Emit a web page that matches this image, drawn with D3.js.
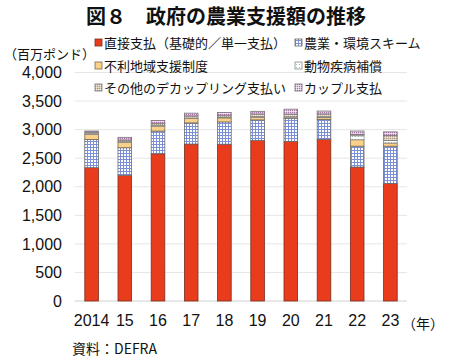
<!DOCTYPE html>
<html><head><meta charset="utf-8">
<script src="https://cdn.jsdelivr.net/npm/d3@7"></script>
<style>
body{margin:0;background:#fff;}
text{font-family:"Noto Sans CJK JP","Liberation Sans",Arial,sans-serif;}
</style></head>
<body><svg id="c" width="450" height="361"></svg>
<script>
const years = ["2014","15","16","17","18","19","20","21","22","23"];
const seriesNames = ["直接支払（基礎的／単一支払）","農業・環境スキーム","不利地域支援制度","動物疾病補償","その他のデカップリング支払い","カップル支払"];
const directPay   = [2334,2200,2577,2748,2745,2810,2793,2830,2345,2055];
const agriEnv     = [ 495, 483, 398, 370, 390, 360, 400, 350, 365, 655];
const lfa         = [  88,  95,  85,  75,  70,  45,  12,  30, 113,  55];
const animal      = [  10,  10,   8,   8,   8,  10,  18,  15,  70,  45];
const otherDecoup = [  30,  32,  45,  40,  40,  50,  50,  50,  25,  90];
const coupled     = [  18,  45,  47,  47,  47,  45,  85,  50,  57,  60];
const yTicks = [0,500,1000,1500,2000,2500,3000,3500,4000];

const svg = d3.select("#c");
const defs = svg.append("defs");
function pat(id, size, bg, draw){
  const p = defs.append("pattern").attr("id",id).attr("patternUnits","userSpaceOnUse").attr("width",size).attr("height",size);
  p.append("rect").attr("width",size).attr("height",size).attr("fill",bg);
  draw(p);
}
pat("pBlue",3,"#ffffff",p=>{
  p.append("rect").attr("x",0).attr("y",0).attr("width",3).attr("height",1).attr("fill","#7b8fd6");
  p.append("rect").attr("x",0).attr("y",0).attr("width",1).attr("height",3).attr("fill","#7b8fd6");
});
pat("pYellow",2,"#fbd088",p=>{});
pat("pAnimal",3,"#ffffff",p=>{
  p.append("rect").attr("x",1).attr("y",1).attr("width",1).attr("height",1).attr("fill","#9cc4b4");
});
pat("pOther",2,"#d8cbb8",p=>{
  p.append("rect").attr("x",0).attr("y",0).attr("width",1).attr("height",1).attr("fill","#a8988a");
  p.append("rect").attr("x",1).attr("y",1).attr("width",1).attr("height",1).attr("fill","#efe6da");
});
pat("pCoupled",2,"#e6cfe6",p=>{
  p.append("rect").attr("x",0).attr("y",0).attr("width",1).attr("height",1).attr("fill","#a878a8");
  p.append("rect").attr("x",1).attr("y",1).attr("width",1).attr("height",1).attr("fill","#f4e8f4");
});
const fills = ["#e83c1c","url(#pBlue)","url(#pYellow)","url(#pAnimal)","url(#pOther)","url(#pCoupled)"];
const strokes = ["#7a2e20","#6b6b6b","#7a6a50","#8a8a8a","#7a7a7a","#7a6a7a"];

const x = d3.scaleBand().domain(years).range([75,407]).paddingInner(0.59).paddingOuter(0.295);
const y = d3.scaleLinear().domain([0,4000]).range([301,72.5]);

svg.append("g").selectAll("line").data(yTicks).join("line")
  .attr("x1",75).attr("x2",407).attr("y1",d=>y(d)).attr("y2",d=>y(d))
  .attr("stroke",d=>d===0?"#d0d0d0":"#e6e6e6").attr("stroke-width",1);

const yAxis = d3.axisLeft(y).tickValues(yTicks).tickSize(0).tickPadding(0).tickFormat(d3.format(","));
const ya = svg.append("g").attr("transform","translate(62,0)").call(yAxis);
ya.select(".domain").remove();
ya.selectAll("text").style("font-family","'Liberation Sans',Arial,sans-serif").attr("font-size",16).attr("fill","#111");

const xAxis = d3.axisBottom(x).tickSize(0).tickPadding(0);
const xa = svg.append("g").attr("transform","translate(0,315)").call(xAxis);
xa.select(".domain").remove();
xa.selectAll("text").style("font-family","'Liberation Sans',Arial,sans-serif").attr("font-size",16).attr("fill","#111");

const rows = years.map((yr,i)=>({year:yr, s0:directPay[i], s1:agriEnv[i], s2:lfa[i], s3:animal[i], s4:otherDecoup[i], s5:coupled[i]}));
const keys = ["s0","s1","s2","s3","s4","s5"];
const stack = d3.stack().keys(keys)(rows);
svg.append("g").selectAll("g").data(stack).join("g")
  .attr("fill",(d,i)=>fills[i]).attr("stroke",(d,i)=>strokes[i]).attr("stroke-width",0.8)
  .selectAll("rect").data(d=>d).join("rect")
  .attr("x",d=>x(d.data.year)).attr("width",x.bandwidth())
  .attr("y",d=>y(d[1])).attr("height",d=>y(d[0])-y(d[1]));

svg.append("text").attr("x",226).attr("y",24).attr("text-anchor","middle")
  .attr("font-size",20).attr("font-weight","bold").attr("fill","#111").text("図８　政府の農業支援額の推移");
svg.append("text").attr("x",4).attr("y",59).attr("font-size",13).attr("fill","#111").text("（百万ポンド）");
svg.append("text").attr("x",402).attr("y",329).attr("font-size",14).attr("fill","#111").text("（年）");
svg.append("text").attr("x",72).attr("y",354).attr("font-size",14).attr("fill","#111").text("資料：DEFRA");

const legPos = [[95,43],[295,43],[95,66],[295,66],[95,88],[295,88]];
const lg = svg.append("g").selectAll("g").data(seriesNames).join("g")
  .attr("transform",(d,i)=>`translate(${legPos[i][0]},${legPos[i][1]})`);
lg.append("rect").attr("x",0).attr("y",-4).attr("width",7).attr("height",7)
  .attr("fill",(d,i)=>fills[i]).attr("stroke",(d,i)=>strokes[i]).attr("stroke-width",0.8);
lg.append("text").attr("x",9).attr("y",4.5).attr("font-size",13).attr("fill","#111").text(d=>d);
</script></body></html>
